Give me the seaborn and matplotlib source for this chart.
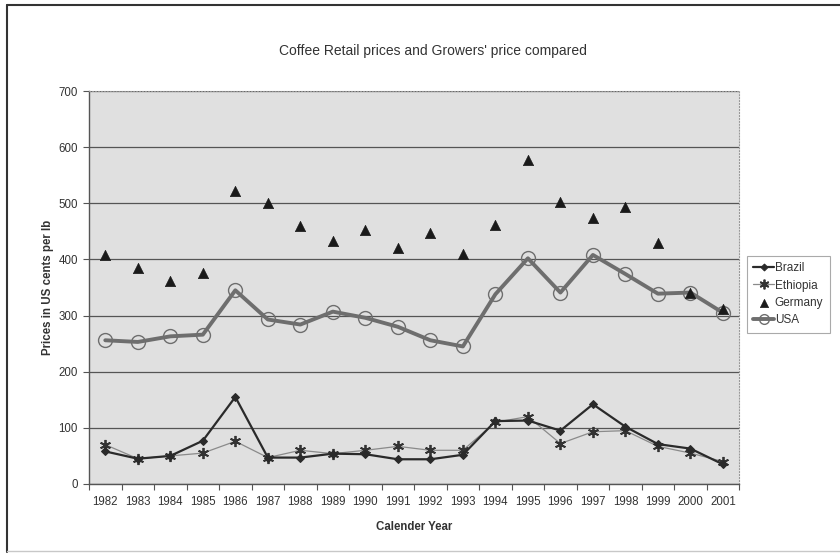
import matplotlib
matplotlib.use("Agg")
import matplotlib.pyplot as plt
import seaborn as sns
import pandas as pd
from matplotlib.ticker import MultipleLocator, FixedLocator
from matplotlib.lines import Line2D

years = list(range(1982, 2002))
brazil = [58, 45, 50, 77, 155, 47, 47, 54, 53, 44, 44, 52, 112, 113, 95, 142, 102, 71, 63, 35]
ethiopia = [70, 45, 50, 55, 76, 47, 60, 54, 60, 67, 60, 60, 110, 120, 72, 93, 95, 67, 55, 40]
germany = [408, 385, 362, 375, 522, 500, 460, 432, 453, 421, 447, 410, 461, 578, 502, 474, 493, 430, 340, 312]
usa = [256, 253, 263, 266, 345, 293, 284, 307, 296, 280, 256, 245, 338, 402, 341, 408, 374, 339, 341, 305]

title = "Coffee Retail prices and Growers' price compared"
xlabel = "Calender Year"
ylabel = "Prices in US cents per lb"

sns.set_theme(style="white")
plt.rcParams['font.family'] = ['Liberation Sans', 'DejaVu Sans']

df = pd.DataFrame({"Year": years, "Brazil": brazil, "Ethiopia": ethiopia,
                   "Germany": germany, "USA": usa})

fig = plt.figure(figsize=(8.4, 5.54), dpi=100)
ax = fig.add_axes([0.106, 0.1264, 0.774, 0.7093])
ax.set_facecolor("#e0e0e0")

# outer frame of the chart (left and top dark, bottom faint)
fig.lines.append(Line2D([0.008, 0.008], [0.004, 0.991], transform=fig.transFigure,
                        color="#333333", linewidth=1.5))
fig.lines.append(Line2D([0.008, 1.0], [0.991, 0.991], transform=fig.transFigure,
                        color="#333333", linewidth=1.5))
fig.lines.append(Line2D([0.008, 1.0], [0.005, 0.005], transform=fig.transFigure,
                        color="#c8c8c8", linewidth=1.0))

sns.lineplot(data=df, x="Year", y="Brazil", ax=ax, color="#2a2a2a", linewidth=1.6,
             marker="D", markersize=4, markeredgecolor="#2a2a2a", label="Brazil", zorder=4)
sns.lineplot(data=df, x="Year", y="Ethiopia", ax=ax, color="#8a8a8a", linewidth=0.9,
             marker=(6, 2, 0), markersize=8, markeredgecolor="#333333", markeredgewidth=1.3,
             label="Ethiopia", zorder=3)
sns.scatterplot(data=df, x="Year", y="Germany", ax=ax, color="#1a1a1a", marker="^", s=55,
                edgecolor="#1a1a1a", linewidth=0.5, label="Germany", zorder=5)
sns.lineplot(data=df, x="Year", y="USA", ax=ax, color="#6e6e6e", linewidth=2.8,
             marker="o", markersize=10, markerfacecolor="none", markeredgecolor="#6e6e6e",
             markeredgewidth=1.0, label="USA", zorder=4)

ax.set_xlim(1981.5, 2001.5)
ax.set_ylim(0, 700)
ax.yaxis.set_major_locator(MultipleLocator(100))
ax.set_xticks(years)
ax.set_xticklabels([str(y) for y in years])
ax.xaxis.set_minor_locator(FixedLocator([y + 0.5 for y in range(1981, 2002)]))
ax.tick_params(axis="x", which="major", length=0, pad=9, labelsize=8.3, labelcolor="#333333")
ax.tick_params(axis="x", which="minor", length=4, width=0.8, color="#555555", direction="out", bottom=True)
ax.tick_params(axis="y", which="major", length=4, width=0.8, color="#555555", direction="out",
               left=True, labelsize=8.3, labelcolor="#333333", pad=4)

ax.grid(axis="y", color="#555555", linewidth=0.9)
ax.set_axisbelow(True)

for side in ["left", "bottom"]:
    ax.spines[side].set_color("#555555")
    ax.spines[side].set_linewidth(1.0)
for side in ["top", "right"]:
    ax.spines[side].set_color("#999999")
    ax.spines[side].set_linewidth(0.8)
    ax.spines[side].set_linestyle(":")

ax.set_xlabel(xlabel, fontsize=8.3, fontweight="bold", color="#333333", labelpad=9)
ax.set_ylabel(ylabel, fontsize=8.3, fontweight="bold", color="#333333", labelpad=3)
fig.text(0.515, 0.908, title, ha="center", va="center", fontsize=10, color="#333333")

leg = ax.legend(loc="center left", bbox_to_anchor=(1.012, 0.483), fontsize=8.5,
                frameon=True, fancybox=False, edgecolor="#aaaaaa", framealpha=1,
                handlelength=1.7, handletextpad=0.1, borderpad=0.55, labelspacing=0.45,
                borderaxespad=0)
leg.get_frame().set_linewidth(0.8)
for t in leg.get_texts():
    t.set_color("#333333")
hs = leg.legend_handles
hs[0].set_markersize(3.5)
hs[1].set_markersize(7)
hs[2].set_sizes([35])
hs[3].set_markersize(7)

fig.savefig("out.png", dpi=100, facecolor="white")
